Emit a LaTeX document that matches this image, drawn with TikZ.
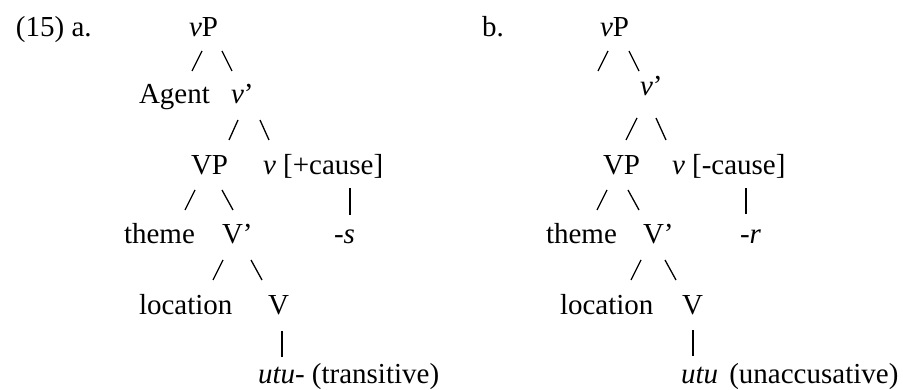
\documentclass[tikz,border=0pt]{standalone}
\usepackage{fontspec}
\setmainfont{Liberation Serif}
\begin{document}
\begin{tikzpicture}[x=1pt,y=-1pt,
  lbl/.style={anchor=base west,inner sep=0pt,outer sep=0pt,font=\fontsize{29}{34}\selectfont},
  br/.style={line width=1.3pt,line cap=butt},
  bar/.style={line width=1.1pt,line cap=butt}]
\useasboundingbox (0,0) rectangle (903,390);
% ---------- (a) ----------
\node[lbl] (numa) at (16,37) {(15) a.};
\node[lbl] (avP) at (189,37) {\textit{v}P};
\node[lbl] (aAg) at (139,104) {Agent};
\node[lbl] (avb) at (231,104) {\textit{v}’};
\node[lbl] (aVP) at (191,175) {VP};
\node[lbl] (av) at (263,175) {\textit{v} [+cause]};
\node[lbl] (ath) at (124,244) {theme};
\node[lbl] (aVb) at (222,244) {V’};
\node[lbl] (as) at (334,244) {\textit{-s}};
\node[lbl] (aloc) at (139,315) {location};
\node[lbl] (aV) at (268,315) {V};
\node[lbl] (autu) at (258,383) {\textit{utu-} (transitive)};
% connectors (a)
\coordinate (a1lt) at (202,51); \coordinate (a1lb) at (192,71);
\coordinate (a1rt) at (222,51); \coordinate (a1rb) at (232,71);
\coordinate (a2lt) at (238,120); \coordinate (a2lb) at (229,140);
\coordinate (a2rt) at (260,120); \coordinate (a2rb) at (269,140);
\coordinate (a3lt) at (195,190); \coordinate (a3lb) at (185,210);
\coordinate (a3rt) at (222,190); \coordinate (a3rb) at (233,210);
\coordinate (a3bt) at (350,188); \coordinate (a3bb) at (350,215);
\coordinate (a4lt) at (223,260); \coordinate (a4lb) at (213,280);
\coordinate (a4rt) at (251,260); \coordinate (a4rb) at (262,280);
\coordinate (a5bt) at (282,331); \coordinate (a5bb) at (282,357);
\draw[br] (a1lt) -- (a1lb); \draw[br] (a1rt) -- (a1rb);
\draw[br] (a2lt) -- (a2lb); \draw[br] (a2rt) -- (a2rb);
\draw[br] (a3lt) -- (a3lb); \draw[br] (a3rt) -- (a3rb);
\draw[bar] (a3bt) -- (a3bb);
\draw[br] (a4lt) -- (a4lb); \draw[br] (a4rt) -- (a4rb);
\draw[bar] (a5bt) -- (a5bb);
% ---------- (b) ----------
\node[lbl] (numb) at (482,37) {b.};
\node[lbl] (bvP) at (600,37) {\textit{v}P};
\node[lbl] (bvb) at (640,96) {\textit{v}’};
\node[lbl] (bVP) at (603,175) {VP};
\node[lbl] (bv) at (672,175) {\textit{v} [-cause]};
\node[lbl] (bth) at (546,244) {theme};
\node[lbl] (bVb) at (643,244) {V’};
\node[lbl] (br) at (740,244) {\textit{-r}};
\node[lbl] (bloc) at (560,315) {location};
\node[lbl] (bV) at (682,315) {V};
\node[lbl] (butu) at (681,383) {\textit{utu}\hspace{4pt} (unaccusative)};
% connectors (b)
\coordinate (b1lt) at (608,51); \coordinate (b1lb) at (598,71);
\coordinate (b1rt) at (629,51); \coordinate (b1rb) at (639,71);
\coordinate (b2lt) at (637,118); \coordinate (b2lb) at (626,140);
\coordinate (b2rt) at (656,118); \coordinate (b2rb) at (666,140);
\coordinate (b3lt) at (607,190); \coordinate (b3lb) at (597,210);
\coordinate (b3rt) at (628,190); \coordinate (b3rb) at (639,210);
\coordinate (b3bt) at (746,188); \coordinate (b3bb) at (746,214);
\coordinate (b4lt) at (641,260); \coordinate (b4lb) at (631,280);
\coordinate (b4rt) at (665,260); \coordinate (b4rb) at (676,280);
\coordinate (b5bt) at (693,330); \coordinate (b5bb) at (693,356);
\draw[br] (b1lt) -- (b1lb); \draw[br] (b1rt) -- (b1rb);
\draw[br] (b2lt) -- (b2lb); \draw[br] (b2rt) -- (b2rb);
\draw[br] (b3lt) -- (b3lb); \draw[br] (b3rt) -- (b3rb);
\draw[bar] (b3bt) -- (b3bb);
\draw[br] (b4lt) -- (b4lb); \draw[br] (b4rt) -- (b4rb);
\draw[bar] (b5bt) -- (b5bb);
\end{tikzpicture}
\end{document}
